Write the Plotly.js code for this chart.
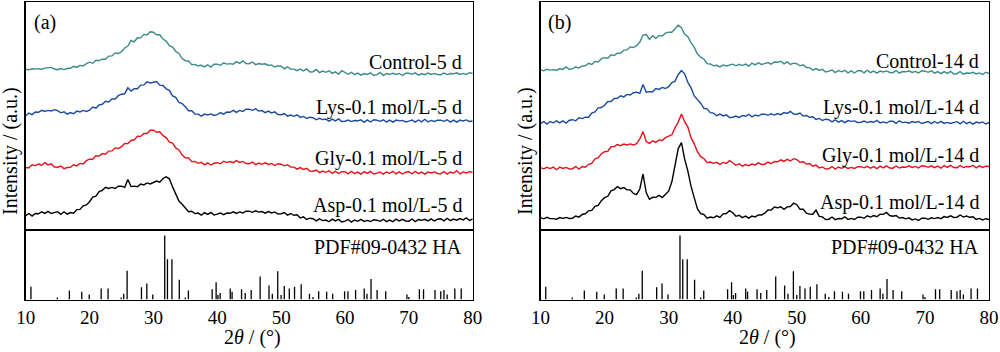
<!DOCTYPE html>
<html>
<head>
<meta charset="utf-8">
<script src="https://cdn.plot.ly/plotly-3.0.1.min.js"></script>
<style>html,body{margin:0;padding:0;background:#fff;}#chart{width:1000px;height:352px;}</style>
</head>
<body>
<div id="chart"></div>
<script>
// 2θ sampling grid (degrees), 0.5° step from 10 to 80
const twoThetaStart = 10, twoThetaStep = 0.5, twoThetaCount = 141;
const twoTheta = Array.from({length: twoThetaCount}, (_, i) => twoThetaStart + twoThetaStep * i);

// Panel (a) – 5 d  (stacked intensity, a.u.)
const control5d = [
 160.8,160.2,161.2,160.9,161.4,160.8,161.9,162.1,162.6,161,
 160.3,161.5,160.4,161.5,161.7,163.7,162.6,164.6,164,166.3,
 167.8,166.7,169.7,169.4,170.9,170.8,173.9,174.1,177.1,176.5,
 178.3,182,183.9,189.5,188.2,192.2,192.1,195.6,195,198.3,
 197.8,195.2,195.2,190.9,188.9,184.3,182.9,178.6,176.6,171.5,
 169.3,169,165.4,165.5,164.2,164.7,163.1,165.1,163,165.8,
 165.8,164.7,167.2,165.9,166.4,165.8,168.4,166.6,169.1,166.5,
 166.3,168,165.4,166.5,165.7,166.2,164.6,165.1,163,164.3,
 163.8,161.2,163.2,160.9,160.9,159.3,160.9,159.1,161.1,158,
 158.3,160.5,157.4,159,157.7,159.2,156.6,158.1,156,159.3,
 157.8,155.7,157.7,155.4,156.9,154.8,156.4,155.6,157.1,154.5,
 155.3,157.5,154.4,156.5,155.7,156.7,155.6,156.6,154.5,156.8,
 156.8,155.7,157.2,154.9,156.4,155.3,156.9,155.6,156.6,155.5,
 155.3,157,155.4,156.5,156.2,157.2,155.6,156.6,155.5,157.3,
 156.5];
const lys5d = [
 114.3,117,115.4,118,117.7,119.7,118.6,119.6,119,120.3,
 119.3,117.2,118.2,115.9,117.4,116.3,118.9,118.1,119.6,118.5,
 119.8,123,121.9,125,125.7,128.7,128.1,131.1,131,134.3,
 135.8,136.2,142.2,138.9,141.4,141.3,144.9,145.1,148.1,147,
 147.8,148.5,144.9,144.5,141.2,139.7,134.1,132.6,127.5,126.3,
 123.3,119.2,119.2,115.9,115.9,113.8,115.9,115.1,116.1,114.5,
 115.3,117.5,115.9,118,117.7,119.7,117.6,119.6,118.5,120.8,
 120.8,119.7,121.2,118.9,119.4,117.3,118.9,117.1,118.1,115.5,
 115.3,116.5,113.9,115,113.7,115.2,112.6,113.6,111.5,112.8,
 112.3,110.2,111.7,110.4,110.9,108.8,110.9,109.1,111.1,108.5,
 108.8,110,108.4,109.5,109.2,110.2,107.6,110.1,108,110.3,
 109.8,108.7,110.2,107.9,109.9,107.8,109.9,109.1,109.6,108,
 108.8,110,107.9,110,108.2,110.7,108.1,109.6,108.5,109.8,
 109.8,108.7,110.2,107.9,109.9,107.8,109.9,109.1,110.1,108.5,
 109];
const gly5d = [
 62.3,62.2,65.2,64.4,65.9,64.8,67.4,65.1,66.1,63,
 62.8,64,61.4,62.5,62.7,65.2,64.1,66.6,66,69.3,
 70.8,70.7,74.2,73.9,76.4,75.8,78.9,79.1,82.1,81.5,
 83.3,86.5,86.4,89.5,90.2,93.7,93.6,96.6,96.5,99.8,
 99.8,97.7,98.2,94.4,92.4,87.8,86.9,82.1,80.1,75,
 72.3,72,68.4,68.5,66.7,67.7,65.1,67.1,65,66.8,
 67.3,66.2,68.7,67.4,68.4,67.3,69.4,67.6,68.6,66.5,
 66.3,68,65.4,67,65.7,67.2,65.6,66.6,64.5,66.3,
 65.8,64.2,65.2,62.9,62.9,60.8,62.4,60.6,61.6,59,
 58.8,60,57.4,59,57.7,59.2,56.6,58.6,56.5,58.3,
 58.3,56.2,58.7,56.4,57.9,55.8,58.4,56.6,58.6,56,
 56.8,58,55.9,58,56.7,58.7,56.1,58.1,56,57.8,
 58.3,56.2,58.7,56.4,57.9,55.8,57.9,57.1,58.1,56.5,
 56.3,58.5,55.9,58,56.7,59.2,56.1,58.1,57,58.3,
 57.5];
const asp5d = [
 14.3,16.5,13.9,16.5,16.2,18.2,16.6,18.6,16.5,17.8,
 18.3,15.7,18.2,15.9,17.4,16.8,20.4,20.6,24.1,25,
 28.3,33,33.9,38.5,39.7,42.7,41.6,42.6,41.5,43.8,
 43.8,42.7,50.5,43.4,43.9,43.3,45.9,45.1,47.1,46,
 47.3,49,47.9,51.5,53.2,51.2,43.1,36.6,29,25.8,
 22.3,18.2,18.7,16.4,16.9,14.8,17.4,15.6,17.6,15,
 15.8,17,15.4,17,16.7,18.2,16.6,18.1,17,18.8,
 18.8,17.7,19.2,17.9,18.4,16.8,18.4,17.1,18.1,16,
 16.3,17.5,14.9,16.5,14.7,15.2,12.1,13.1,10.5,11.8,
 11.3,9.2,11.2,9.4,9.9,8.3,10.9,9.1,10.6,8,
 8.8,10.5,7.9,10,8.7,10.7,8.6,9.6,8.5,10.3,
 9.8,8.7,10.7,8.4,9.9,8.3,10.9,9.1,10.6,9,
 8.8,11,8.4,10.5,9.7,10.7,9.1,11.1,9,10.8,
 11.3,9.2,11.7,9.4,10.9,9.8,11.4,10.1,12.1,9.5,
 11];

// Panel (b) – 14 d
const control14d = [
 160.3,159.2,160.7,159.9,160.4,159.8,161.4,160.6,163.1,160.5,
 161.3,163,161.9,164,164.2,166.7,165.6,168.6,168,171.3,
 172.3,171.7,175.2,174.4,176.9,176.8,179.9,180.1,183.1,182.5,
 184.3,188,194.9,195.5,190.7,194.2,191.6,194.6,194,196.8,
 197.8,197.7,201.2,204.9,202.4,195.8,193.4,187.1,182.6,176,
 172.8,171,166.4,166,164.2,164.7,163.1,165.1,164,165.3,
 165.8,164.2,165.7,164.4,165.9,163.8,166.9,165.1,167.1,165.5,
 166.3,167.5,165.9,168,167.7,168.7,166.1,168.1,165.5,166.8,
 166.3,164.2,165.2,162.4,162.4,159.8,161.4,159.6,160.6,158,
 158.8,160,157.4,159.5,158.2,159.7,157.1,159.1,157,159.3,
 159.3,157.2,159.7,157.4,158.9,156.8,158.9,158.1,159.1,157.5,
 157.3,159.5,156.9,158.5,158.2,159.2,157.6,158.6,157,159.3,
 158.8,157.7,159.2,156.9,158.4,156.3,158.4,156.6,158.6,156,
 156.3,158.5,155.9,157,156.7,157.7,156.1,157.1,155.5,157.8,
 156.5];
const lys14d = [
 106.3,108.5,105.9,108.5,107.2,109.2,107.1,109.1,107,109.8,
 110.3,109.2,112.2,111.4,112.9,112.8,116.9,118.1,122.1,122.5,
 124.8,128.5,128.4,131.5,131.7,134.2,133.1,135.6,135,137.3,
 137.8,136.7,145.5,137.9,138.4,138.3,141.4,140.6,142.6,141.5,
 143.3,147.5,148.9,155.5,159.5,156.2,147.6,142.1,134,130.3,
 126.8,121.7,121.2,117.4,116.9,114.3,115.9,114.1,115.1,112.5,
 112.8,114,112.4,114.5,113.7,115.7,113.1,115.1,114,115.8,
 115.8,114.7,116.2,114.9,116.4,115.3,117.4,116.6,118.6,116,
 115.8,117,113.9,114.5,112.7,113.2,110.6,111.6,109.5,110.8,
 110.3,108.2,110.2,107.9,109.4,107.3,109.4,108.6,109.1,107.5,
 107.8,109,107.4,108.5,107.7,109.7,107.1,108.1,107,108.8,
 108.8,106.7,109.2,107.4,107.9,106.8,108.4,107.6,108.6,106.5,
 107.3,108.5,106.4,108.5,106.7,108.7,106.6,107.6,106.5,107.8,
 108.3,106.2,108.7,106.4,107.9,105.8,107.9,107.1,108.1,106,
 107.5];
const gly14d = [
 62.3,61.2,62.7,61.4,62.9,60.3,62.9,61.6,62.6,61,
 61.3,63.5,60.9,63.5,62.7,65.7,66.6,71.1,72,76.3,
 78.3,78.7,83.2,83.4,85.4,84.3,85.9,85.1,86.1,85,
 86.3,91,98.4,88.5,86.7,89.2,87.6,90.1,89.5,92.3,
 93.8,95.2,102.2,107.9,115.9,108.3,102.9,92.1,86.1,78,
 73.3,71.5,67.4,68,66.7,67.7,65.6,67.6,66.5,69.3,
 67.3,64.7,66.2,63.9,65.4,64.3,65.9,65.1,67.1,65.5,
 65.8,68,66.4,68.5,68.2,70.2,68.6,70.6,69,71.3,
 70.3,67.7,68.2,65.9,66.4,63.8,64.9,62.1,63.1,61,
 61.3,63.5,60.9,63,61.7,63.2,61.6,62.6,61.5,63.3,
 63.3,62.2,63.7,61.9,63.4,61.3,63.9,62.1,64.1,62,
 61.8,64,61.9,63,62.7,64.2,62.6,63.6,62,64.3,
 63.8,62.7,64.2,62.4,63.9,61.8,64.4,62.6,64.6,62.5,
 62.3,64.5,62.4,63.5,63.2,64.7,62.1,64.1,62.5,63.8,
 63.5];
const asp14d = [
 12.3,11.2,12.7,11.4,11.4,10.8,12.4,11.6,12.6,11.5,
 11.8,14,12.9,15.5,16.2,19.2,19.6,23.6,24.5,29.3,
 32.3,33.7,39.2,40.4,43.4,41.3,42.4,40.1,40.1,36.5,
 35.3,41,56,37.5,30.7,32.7,32.6,34.6,32.5,35.3,
 38.8,48.2,65.2,81.4,87.4,70.8,58.9,43.6,32.1,21,
 16.3,15.5,11.9,13,12.2,14.2,12.6,16.1,16.5,19.3,
 17.3,13.7,14.7,12.4,13.9,11.8,13.9,13.1,15.1,15,
 16.8,20,19.9,23,22.2,23.2,20.6,23.1,23.5,26.8,
 25.3,20.7,20.7,16.9,15.9,15.8,19.9,13.6,13.1,10.5,
 10.8,13,10.4,11.5,11.2,13.2,10.6,11.6,10.5,12.8,
 12.8,11.7,14.2,12.9,14.4,13.3,15.9,15.6,17.6,14.5,
 13.8,14.5,11.9,12.5,11.2,12.2,10.1,11.1,9.5,11.8,
 11.8,10.7,12.2,11.4,12.4,11.3,13.4,12.6,14.1,12.5,
 12.8,15,12.9,14,12.7,13.2,10.6,11.6,10,11.3,
 10.5];

// Reference pattern PDF#09-0432 (hydroxyapatite): 2θ positions and relative intensities
const pdfPositions = [10.82,14.95,16.84,18.78,19.95,21.82,22.90,24.95,25.35,25.88,28.13,28.97,29.9,31.77,32.20,32.90,34.05,35.0,35.48,
 39.20,39.82,40.1,40.45,42.03,42.32,43.80,44.37,45.31,46.71,48.10,48.62,49.47,50.0,50.49,51.28,52.10,53.14,54.44,55.0,55.88,
 57.13,58.07,59.94,60.46,61.66,63.01,63.44,64.08,65.03,66.38,69.70,70.0,71.65,72.30,74.1,75.0,75.5,76.0,77.2,78.2];
const pdfIntensities = [20,3,14,12,8,17,17,3,9,45,19,25,8,100,63,63,31,3,14,
 16,27,7,10,17,12,16,10,15,36,22,9,44,7,21,17,20,24,9,4,13,
 12,9,13,13,15,17,9,32,15,13,8,4,16,16,15,13,15,8,17,17];

const seriesNamesA = ['Control-5 d','Lys-0.1 mol/L-5 d','Gly-0.1 mol/L-5 d','Asp-0.1 mol/L-5 d'];
const seriesNamesB = ['Control-14 d','Lys-0.1 mol/L-14 d','Gly-0.1 mol/L-14 d','Asp-0.1 mol/L-14 d'];
const seriesA = [control5d, lys5d, gly5d, asp5d];
const seriesB = [control14d, lys14d, gly14d, asp14d];
const pdfLabel = 'PDF#09-0432 HA';
const xTicks = [10,20,30,40,50,60,70,80];

const colors = ['#3c8a8a','#1b4b9e','#e5121c','#000000'];
const FONT = 'Liberation Serif, Times New Roman, serif';

const traces = [];
function addCurves(series, names, xa, ya) {
  series.forEach((ys, k) => {
    traces.push({x: twoTheta, y: ys, name: names[k], type: 'scatter', mode: 'lines',
      xaxis: xa, yaxis: ya, line: {color: colors[k], width: 1.4}, hoverinfo: 'skip'});
  });
}
function addSticks(xa, ya) {
  const xs = [], ys = [];
  pdfPositions.forEach((p, i) => { xs.push(p, p, null); ys.push(0, pdfIntensities[i], null); });
  traces.push({x: xs, y: ys, type: 'scatter', mode: 'lines', xaxis: xa, yaxis: ya,
    line: {color: '#000', width: 1.3}, hoverinfo: 'skip'});
}
addCurves(seriesA, seriesNamesA, 'x', 'y');
addCurves(seriesB, seriesNamesB, 'x3', 'y3');
addSticks('x2', 'y2');
addSticks('x4', 'y4');

const H = 352, W = 1000;
const py = v => (H - v) / H;
const px = v => v / W;
const leftDom = [px(25.7), px(472.7)];
const rightDom = [px(540.5), px(989)];
const topDom = [py(230), py(2)];
const botDom = [py(299.5), py(230)];

function frameAxis(extra) {
  return Object.assign({showline: true, mirror: true, linecolor: '#000', linewidth: 1.3,
    showgrid: false, zeroline: false, ticks: '', fixedrange: true}, extra);
}
const layout = {
  width: W, height: H, margin: {l: 0, r: 0, t: 0, b: 0},
  paper_bgcolor: '#fff', plot_bgcolor: '#fff', showlegend: false,
  font: {family: FONT, color: '#000', size: 19},
  xaxis:  frameAxis({domain: leftDom,  anchor: 'y',  range: [10, 80], showticklabels: false}),
  yaxis:  frameAxis({domain: topDom,   anchor: 'x',  range: [0, 228], showticklabels: false}),
  xaxis2: frameAxis({domain: leftDom,  anchor: 'y2', range: [10, 80], tickvals: xTicks, ticktext: xTicks.map(String), tickfont: {family: FONT, size: 19, color: '#000'}}),
  yaxis2: frameAxis({domain: botDom,   anchor: 'x2', range: [0, 108.6], showticklabels: false}),
  xaxis3: frameAxis({domain: rightDom, anchor: 'y3', range: [10, 80], showticklabels: false}),
  yaxis3: frameAxis({domain: topDom,   anchor: 'x3', range: [0, 228], showticklabels: false}),
  xaxis4: frameAxis({domain: rightDom, anchor: 'y4', range: [10, 80], tickvals: xTicks, ticktext: xTicks.map(String), tickfont: {family: FONT, size: 19, color: '#000'}}),
  yaxis4: frameAxis({domain: botDom,   anchor: 'x4', range: [0, 108.6], showticklabels: false}),
  annotations: []
};
function ann(text, x, y, xanchor, extra) {
  layout.annotations.push(Object.assign({text: text, xref: 'paper', yref: 'paper', x: x, y: y,
    xanchor: xanchor, yanchor: 'middle', showarrow: false, font: {family: FONT, size: 20, color: '#000'}}, extra || {}));
}
ann('(a)', px(32), py(23), 'left');
ann('(b)', px(546), py(23), 'left');
const labelYA = [62, 107, 158, 205];
const labelYB = [61, 107, 155, 202];
seriesNamesA.forEach((n, k) => ann(n, px(464), py(labelYA[k]), 'right'));
seriesNamesB.forEach((n, k) => ann(n, px(981), py(labelYB[k]), 'right'));
ann(pdfLabel, px(464), py(247), 'right');
ann(pdfLabel, px(981), py(247), 'right');
ann('Intensity / (a.u.)', px(10), py(151), 'center', {textangle: -90});
ann('Intensity / (a.u.)', px(525), py(151), 'center', {textangle: -90});
ann('2<i>θ</i> / (°)', px(252), py(337), 'center');
ann('2<i>θ</i> / (°)', px(767), py(337), 'center');

Plotly.newPlot('chart', traces, layout, {staticPlot: true, displayModeBar: false});
</script>
</body>
</html>
